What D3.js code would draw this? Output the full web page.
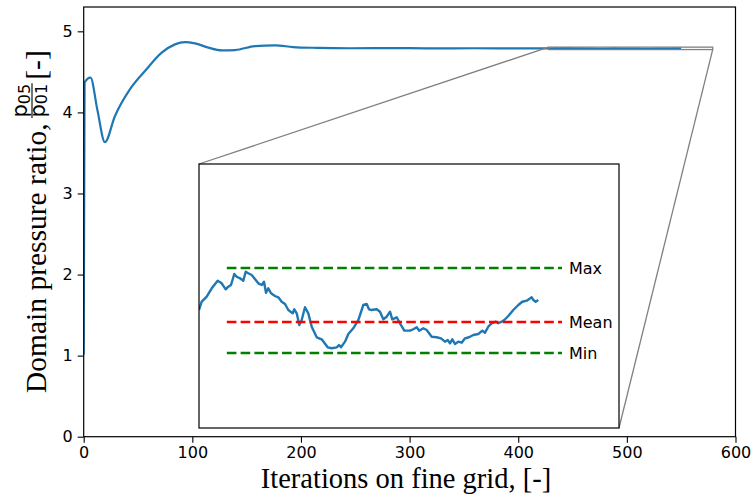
<!DOCTYPE html>
<html>
<head>
<meta charset="utf-8">
<script src="https://cdn.jsdelivr.net/npm/d3@7"></script>
<style>
  body { margin: 0; background: #fff; }
  svg { display: block; }
</style>
</head>
<body>
<svg id="chart" width="753" height="500"></svg>
<script>
// Pressure-ratio convergence history on the fine grid
const iterations = [
  0, 0.8, 6.3, 12.6, 19.5, 28.7, 42.5, 56.4, 71.8, 84.0, 93.2, 102.4, 114.7, 127.0, 139.3,
  157.7, 176.1, 192.7, 215, 245, 280, 320, 360, 400, 420,
  428.00, 428.97, 430.77, 432.57, 434.72, 436.16, 437.60, 438.53, 439.50, 440.69,
  441.55, 442.74, 443.93, 444.79, 445.72, 446.95, 447.88, 449.32, 450.54, 451.37,
  452.09, 452.91, 453.89, 455.32, 456.51, 457.73, 458.92, 460.11, 461.69, 462.26,
  463.13, 464.06, 464.92, 466.11, 467.30, 468.52, 470.32, 472.11, 474.27, 475.71,
  477.51, 478.33, 479.05, 480.49, 481.68, 483.47, 485.27, 486.49, 487.07, 488.29,
  489.12, 489.84, 491.89, 493.07, 494.26, 495.48, 496.67, 497.49, 499.08, 500.26,
  501.81, 503.86, 505.04, 506.27, 507.20, 508.64, 509.86, 511.66, 513.46, 515.00,
  516.44, 517.41, 518.24, 519.07, 520.04, 521.22, 522.45, 523.63, 525.07, 526.62,
  528.42, 529.85, 530.82, 532.01, 533.23, 534.67, 535.60, 536.83, 537.76, 539.20,
  541.00, 542.80, 544.23, 545.82, 547.61, 548.19, 549.05, 549.99
];
const pressureRatio = [
  1.01, 4.37, 4.43, 4.03, 3.632, 3.953, 4.283, 4.510, 4.737, 4.839, 4.868, 4.852, 4.799, 4.765, 4.769,
  4.818, 4.827, 4.806, 4.796, 4.791, 4.793, 4.790, 4.791, 4.789, 4.789,
  4.78841, 4.78935, 4.78992, 4.79087, 4.79174, 4.79144, 4.79076, 4.79106, 4.79125, 4.79250,
  4.79219, 4.79201, 4.79174, 4.79276, 4.79258, 4.79239, 4.79201, 4.79144, 4.79125, 4.79162,
  4.79037, 4.79087, 4.79031, 4.79000, 4.78985, 4.78935, 4.78909, 4.78841, 4.78803, 4.78849,
  4.78803, 4.78670, 4.78727, 4.78872, 4.78803, 4.78651, 4.78531, 4.78508, 4.78417, 4.78406,
  4.78417, 4.78443, 4.78417, 4.78481, 4.78568, 4.78633, 4.78727, 4.78841, 4.78898, 4.78909,
  4.78849, 4.78841, 4.78849, 4.78822, 4.78735, 4.78765, 4.78822, 4.78735, 4.78758, 4.78690,
  4.78606, 4.78606, 4.78622, 4.78644, 4.78606, 4.78633, 4.78614, 4.78537, 4.78531, 4.78519,
  4.78481, 4.78500, 4.78462, 4.78508, 4.78455, 4.78481, 4.78469, 4.78519, 4.78531, 4.78557,
  4.78568, 4.78606, 4.78583, 4.78651, 4.78690, 4.78708, 4.78690, 4.78708, 4.78727, 4.78773,
  4.78841, 4.78898, 4.78935, 4.78947, 4.78985, 4.78955, 4.78935, 4.78955
];

const xTicks = [0, 100, 200, 300, 400, 500, 600];
const yTicks = [0, 1, 2, 3, 4, 5];
const xDomain = [0, 600];
const yDomain = [0, 5.3];

// Zoomed window and its statistics
const zoomX = [428, 579];
const zoomY = [4.775, 4.805];
const statNames = ["Max", "Mean", "Min"];
const statValues = [4.79318, 4.78705, 4.78352];
const statColors = ["#008000", "#ff0000", "#008000"];
const statSpan = [438, 558.5];

const xLabel = "Iterations on fine grid, [-]";
const yLabel = "Domain pressure ratio,";

const svg = d3.select("#chart");
const plot = { left: 83.7, right: 735.5, top: 7, bottom: 436.7 };
const inset = { left: 199, right: 619, top: 164, bottom: 428 };

const x = d3.scaleLinear().domain(xDomain).range([plot.left, plot.right]);
const y = d3.scaleLinear().domain(yDomain).range([plot.bottom, plot.top]);
const xi = d3.scaleLinear().domain(zoomX).range([inset.left, inset.right]);
const yi = d3.scaleLinear().domain(zoomY).range([inset.bottom, inset.top]);

const series = iterations.map((it, i) => ({ it, v: pressureRatio[i] }));
const blue = "#1f77b4";
const tickFont = "'DejaVu Sans', sans-serif";
const serif = "'Liberation Serif', 'Times New Roman', serif";

const defs = svg.append("defs");
defs.append("clipPath").attr("id", "clipMain").append("rect")
  .attr("x", plot.left).attr("y", plot.top)
  .attr("width", plot.right - plot.left).attr("height", plot.bottom - plot.top);
defs.append("clipPath").attr("id", "clipInset").append("rect")
  .attr("x", inset.left).attr("y", inset.top)
  .attr("width", inset.right - inset.left).attr("height", inset.bottom - inset.top);

// Main history curve
svg.append("path")
  .datum(series)
  .attr("clip-path", "url(#clipMain)")
  .attr("fill", "none")
  .attr("stroke", blue)
  .attr("stroke-width", 2.2)
  .attr("stroke-linejoin", "round")
  .attr("d", d3.line().x(d => x(d.it)).y(d => y(d.v)).curve(d3.curveMonotoneX));

// Axes
const xAxis = d3.axisBottom(x).tickValues(xTicks).tickFormat(d3.format("d"))
  .tickSize(6).tickSizeOuter(0).tickPadding(3.5);
const yAxis = d3.axisLeft(y).tickValues(yTicks).tickFormat(d3.format("d"))
  .tickSize(6).tickSizeOuter(0).tickPadding(5);

const gx = svg.append("g").attr("transform", `translate(0,${plot.bottom})`).call(xAxis);
const gy = svg.append("g").attr("transform", `translate(${plot.left},0)`).call(yAxis);
[gx, gy].forEach(g => {
  g.select(".domain").remove();
  g.selectAll(".tick line").attr("stroke", "#000").attr("stroke-width", 1.1);
  g.selectAll(".tick text").attr("fill", "#000").attr("font-family", tickFont).attr("font-size", 16);
});

// Frame of the main axes
svg.append("rect")
  .attr("x", plot.left).attr("y", plot.top)
  .attr("width", plot.right - plot.left).attr("height", plot.bottom - plot.top)
  .attr("fill", "none").attr("stroke", "#000").attr("stroke-width", 1.2);

// Zoom window marker and connectors
const grey = "#808080";
svg.append("rect")
  .attr("x", x(zoomX[0])).attr("y", y(zoomY[1]))
  .attr("width", x(zoomX[1]) - x(zoomX[0])).attr("height", y(zoomY[0]) - y(zoomY[1]))
  .attr("fill", "none").attr("stroke", grey).attr("stroke-width", 1.3);
svg.append("line")
  .attr("x1", inset.left).attr("y1", inset.top)
  .attr("x2", x(zoomX[0])).attr("y2", y(zoomY[1]))
  .attr("stroke", grey).attr("stroke-width", 1.3);
svg.append("line")
  .attr("x1", inset.right).attr("y1", inset.bottom)
  .attr("x2", x(zoomX[1])).attr("y2", y(zoomY[0]))
  .attr("stroke", grey).attr("stroke-width", 1.3);

// Inset axes
svg.append("rect")
  .attr("x", inset.left).attr("y", inset.top)
  .attr("width", inset.right - inset.left).attr("height", inset.bottom - inset.top)
  .attr("fill", "#fff");

const windowData = series.filter(d => d.it >= zoomX[0] && d.it <= zoomX[1]);
svg.append("path")
  .datum(windowData)
  .attr("clip-path", "url(#clipInset)")
  .attr("fill", "none")
  .attr("stroke", blue)
  .attr("stroke-width", 2.4)
  .attr("stroke-linejoin", "round")
  .attr("d", d3.line().x(d => xi(d.it)).y(d => yi(d.v)));

const stats = statNames.map((name, i) => ({ name, v: statValues[i], color: statColors[i] }));
svg.selectAll(".stat-line").data(stats).join("line")
  .attr("class", "stat-line")
  .attr("x1", xi(statSpan[0])).attr("x2", xi(statSpan[1]))
  .attr("y1", d => yi(d.v)).attr("y2", d => yi(d.v))
  .attr("stroke", d => d.color)
  .attr("stroke-width", 2.6)
  .attr("stroke-dasharray", "9.6,4.2");
svg.selectAll(".stat-label").data(stats).join("text")
  .attr("class", "stat-label")
  .attr("x", xi(statSpan[1]) + 7)
  .attr("y", d => yi(d.v))
  .attr("dy", "0.36em")
  .attr("font-family", tickFont)
  .attr("font-size", 16)
  .attr("fill", "#000")
  .text(d => d.name);

svg.append("rect")
  .attr("x", inset.left).attr("y", inset.top)
  .attr("width", inset.right - inset.left).attr("height", inset.bottom - inset.top)
  .attr("fill", "none").attr("stroke", "#000").attr("stroke-width", 1.2);

// Axis titles
svg.append("text")
  .attr("x", 406).attr("y", 488)
  .attr("text-anchor", "middle")
  .attr("font-family", serif).attr("font-size", 28.5).attr("fill", "#000")
  .text(xLabel);

const yl = svg.append("g").attr("transform", "translate(46,393) rotate(-90)");
const t1 = yl.append("text")
  .attr("font-family", serif).attr("font-size", 29.5).attr("fill", "#000")
  .text(yLabel);
const fx = t1.node().getComputedTextLength() + 6;

// p05 / p01 fraction
function fracPart(v, sub) {
  const t = yl.append("text").attr("x", fx).attr("y", v)
    .attr("font-family", tickFont).attr("font-size", 21).attr("fill", "#000");
  t.append("tspan").text("p");
  t.append("tspan").attr("font-size", 16).attr("dy", 2.5).text(sub);
  return t.node().getComputedTextLength();
}
const wNum = fracPart(-19, "05");
const wDen = fracPart(-1.5, "01");
const fw = Math.max(wNum, wDen);
yl.append("line")
  .attr("x1", fx - 0.5).attr("x2", fx + fw + 0.5)
  .attr("y1", -14).attr("y2", -14)
  .attr("stroke", "#000").attr("stroke-width", 1.1);
yl.append("text")
  .attr("x", fx + fw + 4)
  .attr("font-family", serif).attr("font-size", 29.5).attr("fill", "#000")
  .text("[-]");
</script>
</body>
</html>
